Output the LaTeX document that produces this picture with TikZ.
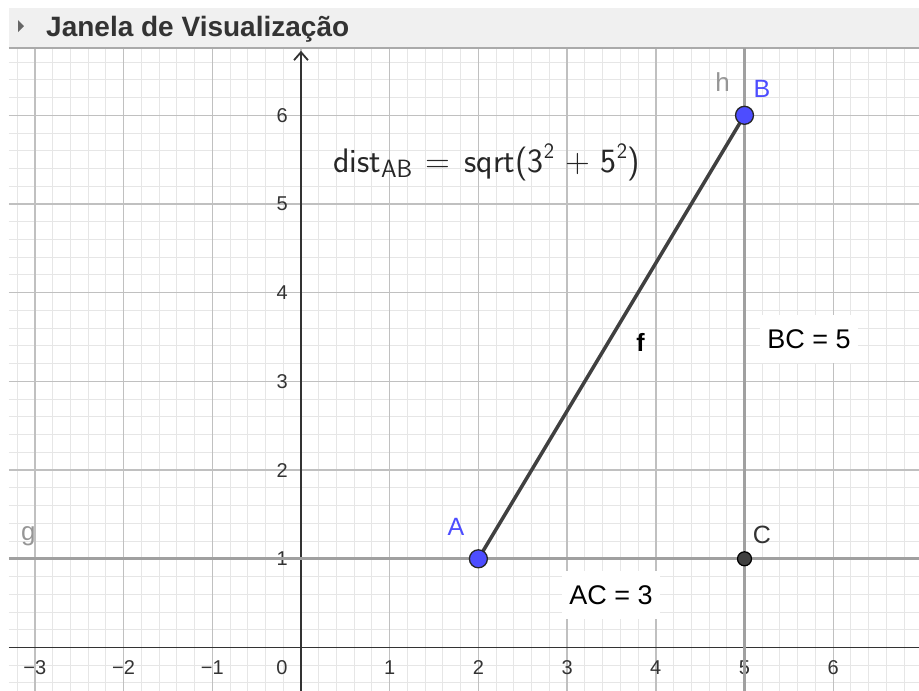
\documentclass[tikz,border=0pt]{standalone}
\usepackage{fontspec}
\newfontfamily\lab{Liberation Sans}
\usetikzlibrary{arrows.meta}
\definecolor{minorgrid}{RGB}{230,230,230}
\definecolor{majorgrid}{RGB}{192,192,192}
\definecolor{axiscol}{RGB}{51,51,51}
\definecolor{linecol}{RGB}{160,160,160}
\definecolor{ptblue}{RGB}{77,77,255}
\definecolor{segcol}{RGB}{64,64,64}
\definecolor{titlebg}{RGB}{240,240,240}
\definecolor{titleline}{RGB}{170,170,170}
\definecolor{titletext}{RGB}{51,51,51}
\definecolor{objlabel}{RGB}{150,150,150}
\newcommand\fsub[1]{\raisebox{-0.3ex}{\fontsize{25}{29}\selectfont #1}}
\newcommand\fsup[1]{\raisebox{1.0ex}{\fontsize{22}{26}\selectfont #1}}
\tikzset{
  ticklab/.style={font=\lab\fontsize{20}{24}\selectfont, text=axiscol, inner sep=0pt},
  ptlab/.style={font=\lab\fontsize{25}{30}\selectfont, inner sep=0pt},
  objlab/.style={font=\lab\fontsize{26}{30}\selectfont, inner sep=0pt, text=objlabel},
  valbox/.style={fill=white, font=\lab\fontsize{27}{32}\selectfont, minimum width=98pt, minimum height=48pt, inner sep=0pt},
  bluept/.style={circle, fill=ptblue, draw=black!85, line width=1.3pt, minimum size=18pt, inner sep=0pt},
  darkpt/.style={circle, fill=segcol, draw=black, line width=1.2pt, minimum size=14pt, inner sep=0pt},
  axisline/.style={axiscol, line width=1.8pt},
  objline/.style={linecol, line width=3pt},
  segline/.style={segcol, line width=3.5pt}
}
\begin{document}
\begin{tikzpicture}[x=88.7pt,y=88.7pt]
\useasboundingbox (-3.3935,-0.4904) rectangle (6.9673,7.2999);
\fill[white] (-3.3935,-0.4904) rectangle (6.9673,7.2999);
% grid
\draw[minorgrid, line width=1pt, step=0.2] (-3.292,-0.4904) grid (6.9673,6.7588);
\draw[majorgrid, line width=1.4pt, step=1] (-3.292,-0.4904) grid (6.9673,6.7588);
% title bar
\fill[titlebg] (-3.292,6.7588) rectangle (6.9673,7.2097);
\draw[titleline, line width=1.2pt] (-3.292,6.7588) -- (6.9673,6.7588);
\fill[black!60] (-3.1905,7.0727) -- (-3.1905,6.9374) -- (-3.1229,7.005) -- cycle;
\node[anchor=base west, font=\lab\bfseries\fontsize{28}{33}\selectfont, text=titletext, inner sep=0pt] (title) at (-2.8749,6.8827) {Janela de Visualização};
% axes
\coordinate (xaL) at (-3.292,0);
\coordinate (xaR) at (6.9673,0);
\coordinate (yaB) at (0,-0.4904);
\coordinate (yaT) at (0,6.727);
\draw[axisline] (xaL) -- (xaR);
\draw[axisline, -{Straight Barb[length=8pt,width=14pt,line width=1.8pt]}] (yaB) -- (yaT);
% tick labels
\foreach \x/\t in {-3/−3,-2/−2,-1/−1,1/1,2/2,3/3,4/4,5/5,6/6}
  \node[ticklab] (xl\x) at (\x,-0.2311) {\t};
\node[ticklab] (xl0) at (-0.2142,-0.2311) {0};
\foreach \y in {1,...,6}
  \node[ticklab, anchor=east] (yl\y) at (-0.1466,\y) {\y};
% lines g and h
\coordinate (gL) at (-3.292,1);
\coordinate (gR) at (6.9673,1);
\coordinate (hB) at (5,-0.4904);
\coordinate (hT) at (5,6.7588);
\draw[objline] (gL) -- (gR);
\draw[objline] (hB) -- (hT);
% segment f
\coordinate (pA) at (2,1);
\coordinate (pB) at (5,6);
\coordinate (pC) at (5,1);
\draw[segline] (pA) -- (pB);
% value boxes
\node[valbox] (BC) at (5.7272,3.478) {BC = 5};
\node[valbox] (AC) at (3.4949,0.5919) {AC = 3};
% formula
\node[anchor=base west, inner sep=0pt, font=\sffamily\fontsize{34}{40}\selectfont, text=black!85] (dist) at (0.3608,5.352)
  {dist\fsub{AB}\hspace{0.4em}=\hspace{0.4em}sqrt(3\fsup{2}\hspace{0.32em}+\hspace{0.32em}5\fsup{2})};
% points
\node[bluept] (A) at (pA) {};
\node[bluept] (B) at (pB) {};
\node[darkpt] (C) at (pC) {};
% labels
\node[ptlab, text=ptblue] (Alab) at (1.7475,1.3585) {A};
\node[ptlab, text=ptblue] (Blab) at (5.1973,6.2965) {B};
\node[ptlab, text=axiscol] (Clab) at (5.1973,1.2683) {C};
\node[objlab] (hlab) at (4.752,6.3754) {h};
\node[objlab, anchor=base] (glab) at (-3.0744,1.2007) {g};
\node[ptlab, anchor=base, text=black, font=\lab\bfseries\fontsize{25}{30}\selectfont] (flab) at (3.8275,3.335) {f};
\end{tikzpicture}
\end{document}
